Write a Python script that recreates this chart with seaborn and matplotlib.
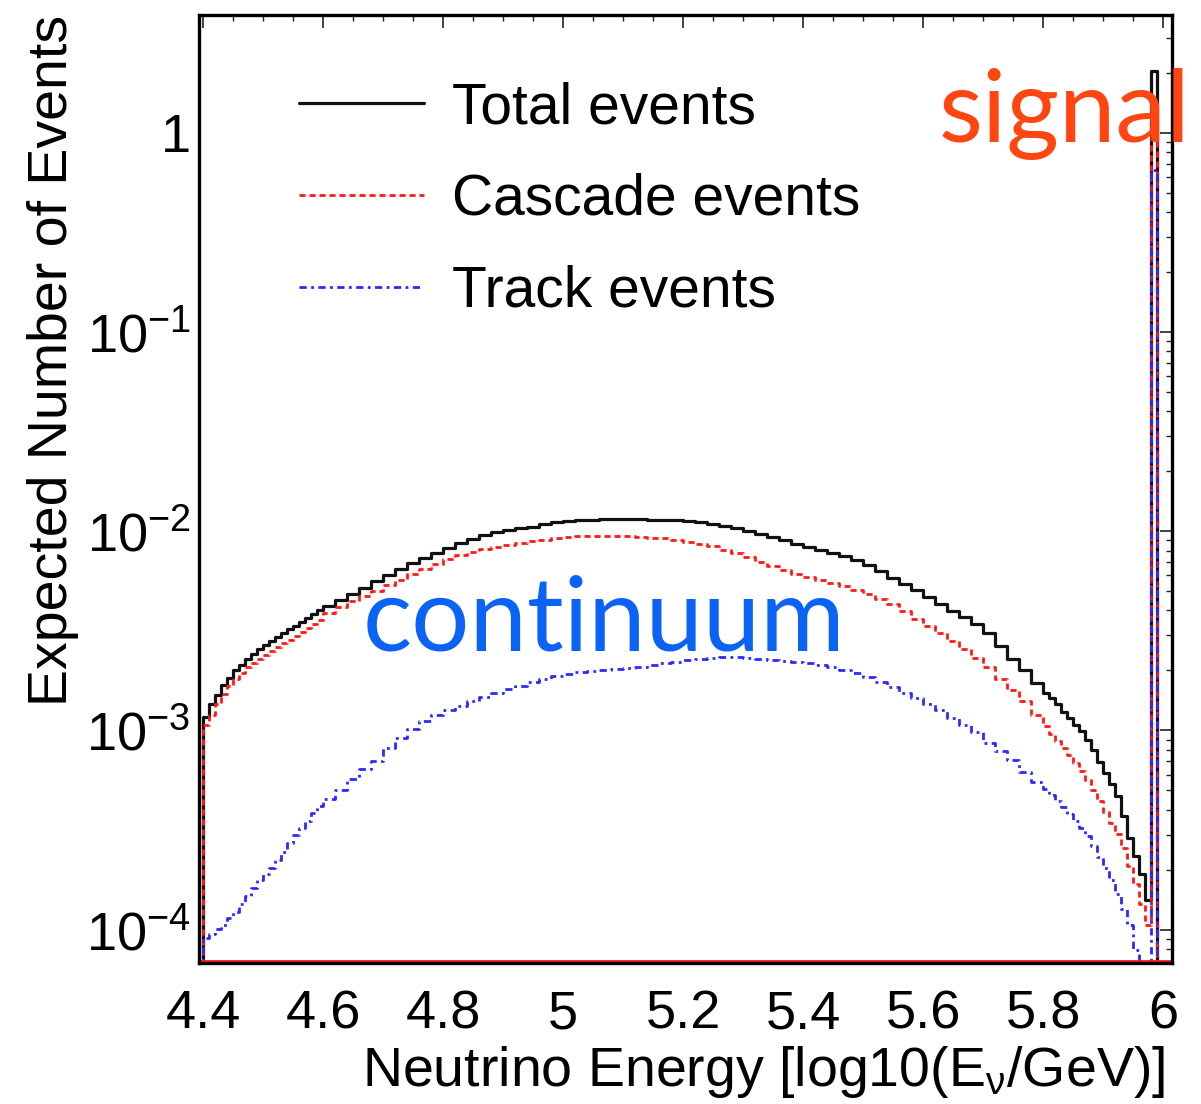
import numpy as np
import pandas as pd
import matplotlib
matplotlib.use("Agg")
import matplotlib.pyplot as plt
import seaborn as sns
from matplotlib.lines import Line2D
from matplotlib.ticker import FixedLocator, FixedFormatter, LogLocator, MultipleLocator, NullFormatter

# ---------------- data ----------------
# bins: 0.01 wide on 4.40-4.60, 0.02 wide on 4.60-5.80, 0.01 wide on 5.80-5.98,
# then the narrow signal bin 5.98-5.99 and an empty bin up to 6.00
bin_segments = [(4.40, 4.60, 0.01), (4.60, 5.80, 0.02), (5.80, 5.98, 0.01)]
signal_bin = (5.98, 5.99)
range_end = 6.00

total_cont = [
    # 4.40 - 4.60 (0.01)
    1.17e-3, 1.35e-3, 1.51e-3, 1.70e-3, 1.84e-3, 2.00e-3, 2.14e-3, 2.29e-3, 2.43e-3, 2.57e-3,
    2.69e-3, 2.82e-3, 2.95e-3, 3.09e-3, 3.24e-3, 3.35e-3, 3.51e-3, 3.67e-3, 3.85e-3, 4.03e-3,
    # 4.60 - 5.80 (0.02)
    4.22e-3, 4.52e-3, 4.84e-3, 5.19e-3, 5.62e-3, 6.03e-3, 6.46e-3, 6.92e-3, 7.33e-3, 7.76e-3,
    8.22e-3, 8.71e-3, 9.12e-3, 9.55e-3, 9.89e-3, 1.012e-2, 1.035e-2, 1.052e-2, 1.084e-2, 1.109e-2,
    1.122e-2, 1.135e-2, 1.143e-2, 1.148e-2, 1.148e-2, 1.153e-2, 1.148e-2, 1.143e-2, 1.140e-2, 1.135e-2,
    1.122e-2, 1.109e-2, 1.091e-2, 1.067e-2, 1.035e-2, 1.005e-2, 9.73e-3, 9.38e-3, 9.02e-3, 8.67e-3,
    8.32e-3, 8.04e-3, 7.76e-3, 7.50e-3, 7.19e-3, 6.76e-3, 6.31e-3, 5.82e-3, 5.43e-3, 5.07e-3,
    4.68e-3, 4.32e-3, 3.98e-3, 3.72e-3, 3.43e-3, 3.09e-3, 2.66e-3, 2.29e-3, 2.00e-3, 1.74e-3,
    # 5.80 - 5.98 (0.01)
    1.55e-3, 1.45e-3, 1.35e-3, 1.24e-3, 1.15e-3, 1.07e-3, 9.89e-4, 8.91e-4, 7.94e-4, 6.92e-4,
    6.10e-4, 5.37e-4, 4.68e-4, 3.72e-4, 2.88e-4, 2.34e-4, 1.91e-4, 1.41e-4]

cascade_cont = [
    1.06e-3, 1.20e-3, 1.36e-3, 1.53e-3, 1.68e-3, 1.82e-3, 1.95e-3, 2.07e-3, 2.19e-3, 2.29e-3,
    2.40e-3, 2.51e-3, 2.63e-3, 2.75e-3, 2.85e-3, 2.99e-3, 3.13e-3, 3.27e-3, 3.43e-3, 3.59e-3,
    3.89e-3, 4.17e-3, 4.47e-3, 4.73e-3, 5.01e-3, 5.37e-3, 5.69e-3, 6.10e-3, 6.46e-3, 6.84e-3,
    7.24e-3, 7.59e-3, 7.85e-3, 8.13e-3, 8.38e-3, 8.57e-3, 8.75e-3, 8.91e-3, 9.06e-3, 9.20e-3,
    9.33e-3, 9.42e-3, 9.46e-3, 9.48e-3, 9.46e-3, 9.42e-3, 9.35e-3, 9.29e-3, 9.20e-3, 9.06e-3,
    8.87e-3, 8.65e-3, 8.41e-3, 8.09e-3, 7.76e-3, 7.41e-3, 7.00e-3, 6.68e-3, 6.38e-3, 6.12e-3,
    5.89e-3, 5.69e-3, 5.50e-3, 5.28e-3, 5.08e-3, 4.84e-3, 4.57e-3, 4.32e-3, 3.98e-3, 3.63e-3,
    3.35e-3, 3.09e-3, 2.82e-3, 2.57e-3, 2.32e-3, 2.07e-3, 1.82e-3, 1.60e-3, 1.40e-3, 1.19e-3,
    1.05e-3, 9.55e-4, 8.81e-4, 8.13e-4, 7.50e-4, 6.84e-4, 6.24e-4, 5.62e-4, 5.01e-4, 4.42e-4,
    3.89e-4, 3.43e-4, 3.02e-4, 2.57e-4, 2.09e-4, 1.70e-4, 1.35e-4, 1.05e-4]

track_cont = [
    9.12e-5, 9.55e-5, 1.01e-4, 1.06e-4, 1.14e-4, 1.23e-4, 1.35e-4, 1.48e-4, 1.62e-4, 1.78e-4,
    1.91e-4, 2.04e-4, 2.24e-4, 2.45e-4, 2.72e-4, 2.99e-4, 3.24e-4, 3.51e-4, 3.85e-4, 4.17e-4,
    4.52e-4, 5.01e-4, 5.69e-4, 6.38e-4, 7.00e-4, 8.13e-4, 9.12e-4, 1.02e-3, 1.11e-3, 1.19e-3,
    1.26e-3, 1.33e-3, 1.40e-3, 1.47e-3, 1.55e-3, 1.62e-3, 1.68e-3, 1.75e-3, 1.81e-3, 1.87e-3,
    1.91e-3, 1.96e-3, 1.98e-3, 2.00e-3, 2.03e-3, 2.06e-3, 2.09e-3, 2.13e-3, 2.17e-3, 2.21e-3,
    2.25e-3, 2.29e-3, 2.32e-3, 2.34e-3, 2.33e-3, 2.31e-3, 2.29e-3, 2.26e-3, 2.23e-3, 2.20e-3,
    2.17e-3, 2.14e-3, 2.07e-3, 2.00e-3, 1.94e-3, 1.86e-3, 1.76e-3, 1.66e-3, 1.55e-3, 1.45e-3,
    1.35e-3, 1.26e-3, 1.16e-3, 1.07e-3, 9.77e-4, 8.61e-4, 7.85e-4, 7.08e-4, 6.17e-4, 5.50e-4,
    5.07e-4, 4.73e-4, 4.42e-4, 4.12e-4, 3.80e-4, 3.51e-4, 3.24e-4, 2.95e-4, 2.63e-4, 2.32e-4,
    2.04e-4, 1.78e-4, 1.51e-4, 1.27e-4, 1.05e-4, 7.94e-5, 0.0, 0.0]

signal_total = 2.05
signal_cascade = 1.40
signal_track = 0.65

series_names = ["Total events", "Cascade events", "Track events"]
x_ticks = [4.4, 4.6, 4.8, 5.0, 5.2, 5.4, 5.6, 5.8, 6.0]
x_tick_labels = ["4.4", "4.6", "4.8", "5", "5.2", "5.4", "5.6", "5.8", "6"]
y_ticks = [1e-4, 1e-3, 1e-2, 1e-1, 1]
y_tick_labels = ["10$^{-4}$", "10$^{-3}$", "10$^{-2}$", "10$^{-1}$", "1"]
xlabel = r"Neutrino Energy [log10(E$_{\nu}$/GeV)]"
ylabel = "Expected Number of Events"

# ---------------- build histogram table ----------------
cont_edges = []
for lo, hi, w in bin_segments:
    n = int(round((hi - lo) / w))
    cont_edges.extend(lo + w * np.arange(n))
cont_edges.append(bin_segments[-1][1])
first_w = bin_segments[0][2]
edges = [cont_edges[0] - first_w] + cont_edges + [signal_bin[1], range_end]
edges = [float(e) for e in np.round(edges, 6)]
centers = [0.5 * (a + b) for a, b in zip(edges[:-1], edges[1:])]

def full(cont, sig):
    return [0.0] + list(cont) + [sig, 0.0]

df = pd.DataFrame({
    "energy": centers,
    "Total events": full(total_cont, signal_total),
    "Cascade events": full(cascade_cont, signal_cascade),
    "Track events": full(track_cont, signal_track),
})

# ---------------- style ----------------
sns.set_theme(style="white")
plt.rcParams["font.family"] = ["Liberation Sans", "DejaVu Sans"]
plt.rcParams["mathtext.fontset"] = "custom"
plt.rcParams["mathtext.rm"] = "Liberation Sans"
plt.rcParams["mathtext.it"] = "Liberation Sans"
plt.rcParams["mathtext.default"] = "regular"
for key in ["text.color", "axes.labelcolor", "xtick.color", "ytick.color"]:
    plt.rcParams[key] = "black"

fig = plt.figure(figsize=(12.01, 11.04), dpi=100)
ax = fig.add_axes([0.1657, 0.1277, 0.8103, 0.8587])

styles = {
    "Total events": dict(color="#111111", linewidth=2.3, linestyle="-"),
    "Cascade events": dict(color="#ff1a1a", linewidth=2.0, linestyle=(0, (2.2, 1.4))),
    "Track events": dict(color="#2a2aff", linewidth=2.0, linestyle=(0, (2.6, 1.6, 1.0, 1.6))),
}

for name in ["Total events", "Cascade events", "Track events"]:
    sns.histplot(data=df, x="energy", weights=name, bins=edges, element="step",
                 fill=False, ax=ax, **styles[name])

ax.set_yscale("log")
ax.set_xlim(4.3933, 6.015)
ax.set_ylim(6.8e-5, 3.9)

# red baseline along the bottom (histogram baseline)
ax.plot([0, 1], [0.0025, 0.0025], transform=ax.transAxes, color="#ff1a1a", lw=2.0, clip_on=False)

# ticks
ax.xaxis.set_major_locator(FixedLocator(x_ticks))
ax.xaxis.set_major_formatter(FixedFormatter(x_tick_labels))
ax.xaxis.set_minor_locator(MultipleLocator(0.05))
ax.yaxis.set_major_locator(FixedLocator(y_ticks))
ax.yaxis.set_major_formatter(FixedFormatter(y_tick_labels))
ax.yaxis.set_minor_locator(LogLocator(base=10, subs=np.arange(2, 10) * 1.0, numticks=20))
ax.yaxis.set_minor_formatter(NullFormatter())

ax.tick_params(which="both", direction="in", top=True, right=True, color="#222222")
ax.tick_params(which="major", length=9, width=1.2)
ax.tick_params(which="minor", length=4.5, width=1.0)
ax.tick_params(axis="x", which="major", labelsize=39, pad=19)
ax.tick_params(axis="y", which="major", labelsize=39, pad=6)

for sp in ax.spines.values():
    sp.set_visible(True)
    sp.set_color("black")
    sp.set_linewidth(2.4)

ax.set_xlabel(xlabel, fontsize=40, loc="right")
ax.set_ylabel(ylabel, fontsize=40, loc="top")
ax.xaxis.set_label_coords(0.993, -0.085)
ax.yaxis.set_label_coords(-0.123, 1.0)
ax.grid(False)

# legend
handles = [Line2D([], [], **styles[n]) for n in series_names]
ax.legend(handles, series_names, loc="upper left", bbox_to_anchor=(0.073, 0.96),
          frameon=False, fontsize=41, handlelength=2.2, handletextpad=0.5,
          labelspacing=0.66, borderpad=0)

# annotations
ax.text(0.889, 0.866, "signal", transform=ax.transAxes, ha="center", va="baseline",
        fontsize=73, color="#ff4511", family="Lato", clip_on=False)
ax.text(0.416, 0.330, "continuum", transform=ax.transAxes, ha="center", va="baseline",
        fontsize=74, color="#0a63f5", family="Lato")

fig.savefig("out.png", dpi=100, facecolor="white")
